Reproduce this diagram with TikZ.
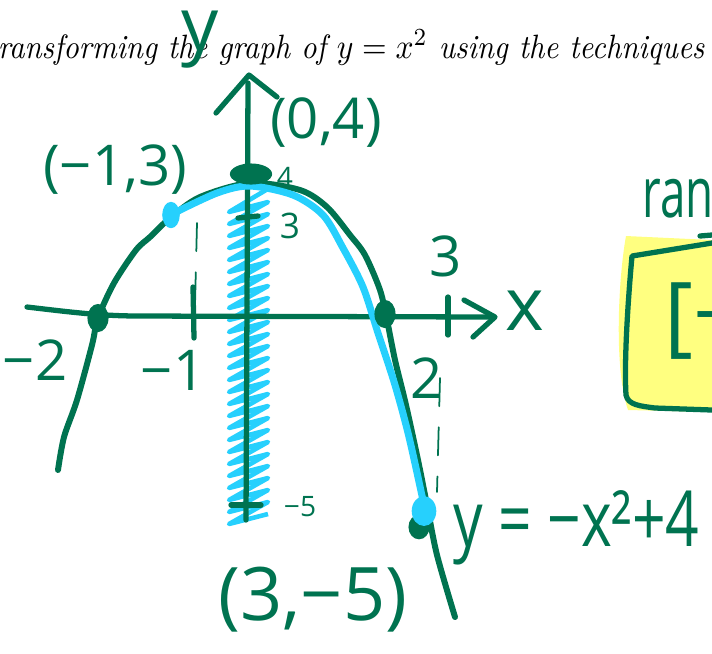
\documentclass[tikz,border=0pt]{standalone}
\usepackage{graphicx}
\usepackage{fontspec}
\newfontfamily\hand{Open Sans}
\usetikzlibrary{shapes.geometric, positioning}
\definecolor{ink}{RGB}{0,115,80}
\definecolor{hilite}{RGB}{38,208,253}
\definecolor{marker}{RGB}{255,255,128}
\newcommand{\narrow}[2][0.7]{\scalebox{#1}[1]{#2}}

\begin{document}
\begin{tikzpicture}[x=0.01cm, y=-0.01cm,
  pen/.style={draw=ink, line width=1.5pt, line cap=round, line join=round},
  thinpen/.style={draw=ink, line width=0.5pt, line cap=round, dash pattern=on 8pt off 6pt},
  cyanpen/.style={draw=hilite, line width=2pt, line cap=round, line join=round},
  hatch/.style={draw=hilite, line width=1.3pt, line join=round},
  greendot/.style={ellipse, fill=ink, inner sep=0pt},
  cyandot/.style={ellipse, fill=hilite, inner sep=0pt},
  bighand/.style={text=ink, inner sep=0pt, font=\hand\fontsize{21}{21}\selectfont},
  midhand/.style={text=ink, inner sep=0pt, font=\hand\fontsize{16}{16}\selectfont},
  smallhand/.style={text=ink, inner sep=0pt, font=\hand\fontsize{8}{8}\selectfont}
]
\useasboundingbox (0,0) rectangle (712,653);
\clip (0,0) rectangle (712,653);

\node[anchor=base west, inner sep=0pt, font=\fontsize{9.6}{11}\selectfont\itshape] (title) at (-13,58)
  {\narrow[0.9]{transforming the graph of $y = x^2$ using the techniques}};

\fill[marker] (626,236) .. controls (618,280) and (614,370) .. (628,410) -- (712,412) -- (712,240) -- cycle;
\draw[pen] (712,243) -- (632,256) .. controls (628,300) and (624,360) .. (626,395)
  .. controls (628,405) and (640,406) .. (655,408) -- (712,410);
\draw[pen] (700,236) -- (712,235);

\draw[hatch] (266,190) \foreach \k in {0,...,26} { -- (229,{212+12*\k}) -- (268,{202+12*\k}) };

\coordinate (ytop) at (248,83);
\coordinate (ybot) at (246,520);
\coordinate (xleft) at (27,307);
\coordinate (xright) at (492,317);
\draw[pen] (ybot) -- (ytop);
\draw[pen] (216,113) -- (249,75) -- (277,97);
\draw[pen] (xleft) .. controls (70,312) and (100,316) .. (140,316) -- (xright);
\draw[pen] (464,300) -- (495,317) -- (473,337);
\draw[pen] (193,287) -- (194,338);
\draw[pen] (448,297) -- (448,335);
\draw[pen] (238,218) -- (258,216);
\draw[pen] (231,505) -- (261,505);

\draw[thinpen] (197,223) -- (195,305);
\draw[thinpen] (440,378) -- (437,492);

\draw[pen, line width=1.7pt] plot[smooth] coordinates {(58,470) (64,437) (77,400) (92,345) (98,318)
  (114,283) (136,250) (150,237) (170,218) (200,197) (250,183) (300,190) (327,207) (350,235)
  (365,255) (380,290) (387,320) (395,360) (406,405) (418,460) (427,505) (437,555) (455,617)};
\draw[cyanpen] plot[smooth] coordinates {(170,215) (217,193) (250,186) (293,195) (323,215)
  (343,248) (363,287) (378,333) (395,385) (409,437) (424,505)};

\node[greendot, minimum width=6pt, minimum height=8pt] (xneg) at (98,318) {};
\node[greendot, minimum width=6pt, minimum height=8pt] (xpos) at (385,314) {};
\node[greendot, minimum width=12pt, minimum height=6pt] (vertex) at (251,174) {};
\node[greendot, minimum width=6pt, minimum height=7pt] (low) at (419,527) {};
\node[cyandot, minimum width=5pt, minimum height=7.5pt] (left) at (171,215) {};
\node[cyandot, minimum width=7pt, minimum height=8.5pt] (end) at (424,511) {};

\node[bighand] (ylab) at (200,40) {y};
\node[bighand] (xlab) at (525,311) {x};
\node[midhand] (ptA) at (326,123) {(0,4)};
\node[midhand] (ptB) at (115,170) {(−1,3)};
\node[bighand] (ptC) at (313,600) {(3,−5)};
\node[bighand, font=\hand\fontsize{22}{22}\selectfont, anchor=west] (eq) at (453,528) {\narrow[0.76]{y = −x²+4}};
\node[midhand] (mtwo) at (35,360) {−2};
\node[midhand] (mone) at (173,370) {−1};
\node[midhand] (two) at (427,378) {2};
\node[midhand] (three) at (446,256) {3};
\node[smallhand, font=\hand\fontsize{10}{10}\selectfont] (ythree) at (290,226) {3};
\node[smallhand] (yfour) at (285,177) {4};
\node[smallhand] (yfive) at (300,507) {−5};
\node[bighand, font=\hand\fontsize{20}{20}\selectfont, anchor=base west] (range) at (642,217) {\narrow[0.65]{range}};
\node[bighand, font=\hand\fontsize{25}{25}\selectfont, anchor=west] (interval) at (664,321) {[−};
\end{tikzpicture}
\end{document}
